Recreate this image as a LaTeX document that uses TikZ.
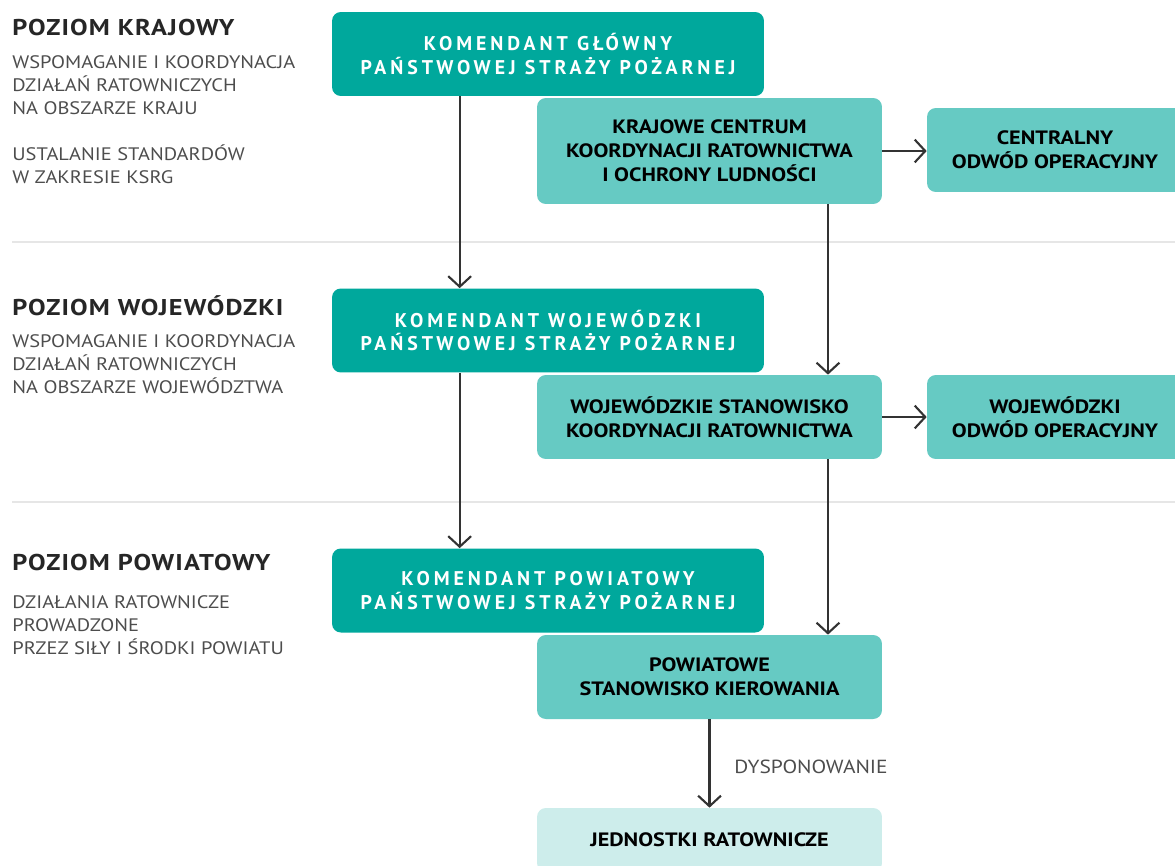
\documentclass[tikz,border=0pt]{standalone}
\usepackage{fontspec}
\setmainfont{PT Sans}
\newfontfamily\spaced[LetterSpace=20]{PT Sans}
\newfontfamily\headfont[LetterSpace=5,FakeStretch=1.15]{PT Sans}
\newfontfamily\descfont[FakeStretch=1.13]{PT Sans}
\newfontfamily\boxfont[FakeStretch=1.15]{PT Sans}
\usepackage{tikz}
\usetikzlibrary{arrows.meta}

\definecolor{tealdark}{HTML}{00A89C}
\definecolor{tealmid}{HTML}{66CAC3}
\definecolor{teallight}{HTML}{CDEDEB}
\definecolor{linegrey}{HTML}{333333}
\definecolor{textgrey}{HTML}{4D4D4D}
\definecolor{rulegrey}{HTML}{E6E6E6}

\begin{document}
\begin{tikzpicture}[x=0.02cm,y=-0.02cm]
  \useasboundingbox (0,0) rectangle (1175,865);
  \clip (0,0) rectangle (1175,865);

  % separators between the levels
  \draw[rulegrey, line width=1.6pt] (12,242) -- (1175,242);
  \draw[rulegrey, line width=1.6pt] (12,502) -- (1175,502);

  % left column
  \begin{scope}[every node/.style={anchor=north west, inner sep=0pt, align=left}]
      \node[font=\headfont\fontsize{13}{15}\selectfont\bfseries, text=black!85] (hk) at (12,19) {POZIOM KRAJOWY};
      \node[font=\descfont\fontsize{10.3}{13.3}\selectfont, text=textgrey] (dk1) at (12,55) {WSPOMAGANIE I KOORDYNACJA\\DZIAŁAŃ RATOWNICZYCH\\NA OBSZARZE KRAJU};
      \node[font=\descfont\fontsize{10.3}{13.3}\selectfont, text=textgrey] (dk2) at (12,144) {USTALANIE STANDARDÓW\\W ZAKRESIE KSRG};

      \node[font=\headfont\fontsize{13}{15}\selectfont\bfseries, text=black!85] (hw) at (12,295) {POZIOM WOJEWÓDZKI};
      \node[font=\descfont\fontsize{10.3}{13.3}\selectfont, text=textgrey] (dw) at (12,334) {WSPOMAGANIE I KOORDYNACJA\\DZIAŁAŃ RATOWNICZYCH\\NA OBSZARZE WOJEWÓDZTWA};

      \node[font=\headfont\fontsize{13}{15}\selectfont\bfseries, text=black!85] (hp) at (12,554) {POZIOM POWIATOWY};
      \node[font=\descfont\fontsize{10.3}{13.3}\selectfont, text=textgrey] (dp) at (12,595) {DZIAŁANIA RATOWNICZE\\PROWADZONE\\PRZEZ SIŁY I ŚRODKI POWIATU};
  \end{scope}

  \tikzset{
    chief/.style={fill=tealdark, text=white, rounded corners=5pt, align=center,
      minimum width=8.64cm, minimum height=1.68cm, inner sep=0pt,
      font=\spaced\fontsize{11.3}{13.6}\selectfont\bfseries},
    post/.style={fill=tealmid, text=black, rounded corners=5pt, align=center,
      minimum width=6.9cm, minimum height=1.68cm, inner sep=0pt,
      font=\boxfont\fontsize{11}{13.6}\selectfont\bfseries},
    reserve/.style={post, minimum width=5.12cm},
    units/.style={post, fill=teallight}
  }

  % boxes
  \node[chief] (kg) at (548,54) {KOMENDANT GŁÓWNY\\PAŃSTWOWEJ STRAŻY POŻARNEJ};
  \node[post, minimum height=2.12cm] (kckr) at (709.5,151) {KRAJOWE CENTRUM\\KOORDYNACJI RATOWNICTWA\\I OCHRONY LUDNOŚCI};
  \node[reserve] (coo) at (1055,150) {CENTRALNY\\ODWÓD OPERACYJNY};

  \node[chief] (kw) at (548,330.5) {KOMENDANT WOJEWÓDZKI\\PAŃSTWOWEJ STRAŻY POŻARNEJ};
  \node[post] (wskr) at (709.5,417) {WOJEWÓDZKIE STANOWISKO\\KOORDYNACJI RATOWNICTWA};
  \node[reserve] (woo) at (1055,417) {WOJEWÓDZKI\\ODWÓD OPERACYJNY};

  \node[chief] (kp) at (548,590.5) {KOMENDANT POWIATOWY\\PAŃSTWOWEJ STRAŻY POŻARNEJ};
  \node[post] (psk) at (709.5,677) {POWIATOWE\\STANOWISKO KIEROWANIA};

  \node[units, minimum height=1.28cm] (jr) at (709.5,840) {JEDNOSTKI RATOWNICZE};

  \tikzset{thin arc/.style={-{Straight Barb[length=6pt,width=13pt]}, linegrey, line width=1.2pt}}

  \draw[thin arc] ([xshift=2.56cm]kg.south west) -- ([xshift=2.56cm]kw.north west);
  \draw[thin arc] ([xshift=2.56cm]kw.south west) -- ([xshift=2.56cm]kp.north west);

  \draw[thin arc] ([xshift=2.37cm]kckr.south) -- ([xshift=2.37cm]wskr.north);
  \draw[thin arc] ([xshift=2.37cm]wskr.south) -- ([xshift=2.37cm]psk.north);

  \draw[thin arc] (kckr.east) -- (kckr.east -| coo.west);
  \draw[thin arc] (wskr.east) -- (wskr.east -| woo.west);

  \draw[thin arc] (psk.south) -- node[midway, right, xshift=0.36cm, yshift=-0.06cm, text=textgrey,
      font=\descfont\fontsize{10.8}{12}\selectfont] {DYSPONOWANIE} (jr.north);

\end{tikzpicture}
\end{document}
